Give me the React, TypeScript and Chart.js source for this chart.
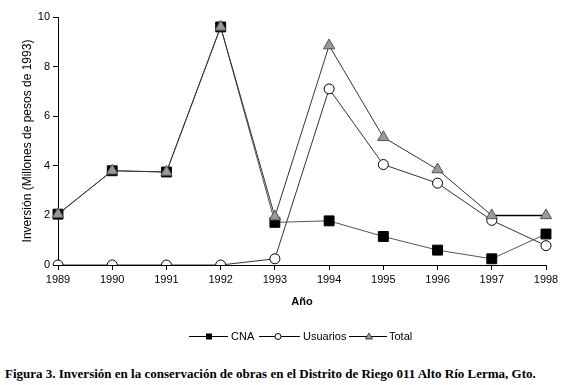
import React, { useEffect, useRef } from "react";
import { Chart, registerables } from "chart.js";

Chart.register(...registerables);

const years = ["1989", "1990", "1991", "1992", "1993", "1994", "1995", "1996", "1997", "1998"];
const cna = [2.05, 3.8, 3.75, 9.6, 1.72, 1.78, 1.15, 0.6, 0.25, 1.25];
const usuarios = [0, 0, 0, 0, 0.25, 7.1, 4.05, 3.3, 1.8, 0.78];
const total = [2.05, 3.8, 3.75, 9.6, 1.95, 8.85, 5.15, 3.85, 2.0, 2.0];
const yTicks = [0, 2, 4, 6, 8, 10];

const SANS = "'Liberation Sans', Arial, sans-serif";

const legendPlugin = {
  id: "customLegend",
  afterDraw(chart: any) {
    const ctx = chart.ctx;
    const y = 336;
    ctx.save();
    ctx.lineWidth = 1;
    ctx.strokeStyle = "#000";
    ctx.font = `11px ${SANS}`;
    ctx.fillStyle = "#000";
    ctx.textBaseline = "middle";
    const items = [
      { x0: 189, x1: 228, mx: 209, tx: 231, label: "CNA", kind: "rect" },
      { x0: 259, x1: 300, mx: 278, tx: 303, label: "Usuarios", kind: "circle" },
      { x0: 349, x1: 387, mx: 369, tx: 389, label: "Total", kind: "tri" },
    ];
    for (const it of items) {
      ctx.beginPath();
      ctx.moveTo(it.x0, y + 0.5);
      ctx.lineTo(it.x1, y + 0.5);
      ctx.strokeStyle = "#000";
      ctx.stroke();
      if (it.kind === "rect") {
        ctx.fillStyle = "#000";
        ctx.fillRect(it.mx - 3, y - 2.5, 6, 6);
      } else if (it.kind === "circle") {
        ctx.beginPath();
        ctx.arc(it.mx, y + 0.5, 3, 0, Math.PI * 2);
        ctx.fillStyle = "#fff";
        ctx.fill();
        ctx.stroke();
      } else {
        ctx.beginPath();
        ctx.moveTo(it.mx, y - 3);
        ctx.lineTo(it.mx + 3.5, y + 3);
        ctx.lineTo(it.mx - 3.5, y + 3);
        ctx.closePath();
        ctx.fillStyle = "#999";
        ctx.fill();
        ctx.strokeStyle = "#444";
        ctx.stroke();
      }
      ctx.fillStyle = "#000";
      ctx.textAlign = "left";
      ctx.fillText(it.label, it.tx, y + 1);
    }
    ctx.restore();
  },
};

export default function App() {
  const ref = useRef<HTMLCanvasElement | null>(null);
  useEffect(() => {
    if (!ref.current) return;
    const chart = new Chart(ref.current, {
      type: "line",
      data: {
        labels: years,
        datasets: [
          {
            label: "CNA",
            data: cna,
            order: 3,
            borderColor: "#555",
            borderWidth: 1,
            pointStyle: "rect",
            pointRadius: 7,
            pointBackgroundColor: "#000",
            pointBorderColor: "#000",
            pointBorderWidth: 1,
            tension: 0,
          },
          {
            label: "Usuarios",
            data: usuarios,
            order: 2,
            borderColor: "#333",
            borderWidth: 1,
            pointStyle: "circle",
            pointRadius: 5,
            pointBackgroundColor: "#fff",
            pointBorderColor: "#000",
            pointBorderWidth: 1,
            tension: 0,
          },
          {
            label: "Total",
            data: total,
            order: 1,
            borderColor: "#333",
            borderWidth: 1,
            pointStyle: "triangle",
            pointRadius: 6.5,
            pointBackgroundColor: "#999",
            pointBorderColor: "#555",
            pointBorderWidth: 1,
            tension: 0,
            segment: {
              borderColor: (c: any) => (c.p0DataIndex === 8 ? "#000" : undefined),
              borderWidth: (c: any) => (c.p0DataIndex === 8 ? 1.5 : undefined),
            },
          },
        ],
      },
      options: {
        responsive: false,
        devicePixelRatio: 1,
        animation: false,
        layout: { padding: { left: 0, right: 21, top: 17, bottom: 35 } },
        plugins: {
          legend: { display: false },
          tooltip: { enabled: false },
        },
        scales: {
          x: {
            type: "category",
            offset: false,
            grid: { drawOnChartArea: false, drawTicks: true, tickLength: 5, color: "#000" },
            border: { color: "#000", width: 1 },
            ticks: {
              color: "#000",
              font: { family: SANS, size: 11 },
              padding: 3,
              maxRotation: 0,
              autoSkip: false,
            },
            title: {
              display: true,
              text: "Año",
              color: "#000",
              font: { family: SANS, size: 11, weight: "bold" },
              padding: { top: 4, bottom: 6 },
            },
            afterFit: (s: any) => {
              s.height = 50;
            },
          },
          y: {
            min: 0,
            max: 10,
            afterBuildTicks: (s: any) => {
              s.ticks = yTicks.map((v) => ({ value: v }));
            },
            grid: { drawOnChartArea: false, drawTicks: true, tickLength: 5, color: "#000" },
            border: { color: "#000", width: 1 },
            ticks: {
              color: "#000",
              font: { family: SANS, size: 11 },
              padding: 3,
            },
            title: {
              display: true,
              text: "Inversión (Millones de pesos de 1993)",
              color: "#000",
              font: { family: SANS, size: 12 },
              padding: { top: 20, bottom: 0 },
            },
            afterFit: (s: any) => {
              s.width = 58;
            },
          },
        },
      },
      plugins: [legendPlugin],
    } as any);
    return () => chart.destroy();
  }, []);

  return (
    <div style={{ position: "absolute", left: 0, top: 0, width: 567, height: 385, background: "#fff" }}>
      <canvas ref={ref} width={567} height={350} style={{ position: "absolute", left: 0, top: 0 }} />
      <div
        style={{
          position: "absolute",
          left: 5,
          top: 366,
          whiteSpace: "nowrap",
          fontFamily: "'Liberation Serif', 'Times New Roman', serif",
          fontWeight: "bold",
          fontSize: 13,
          lineHeight: "16px",
          color: "#000",
        }}
      >
        Figura 3. Inversión en la conservación de obras en el Distrito de Riego 011 Alto Río Lerma, Gto.
      </div>
    </div>
  );
}
